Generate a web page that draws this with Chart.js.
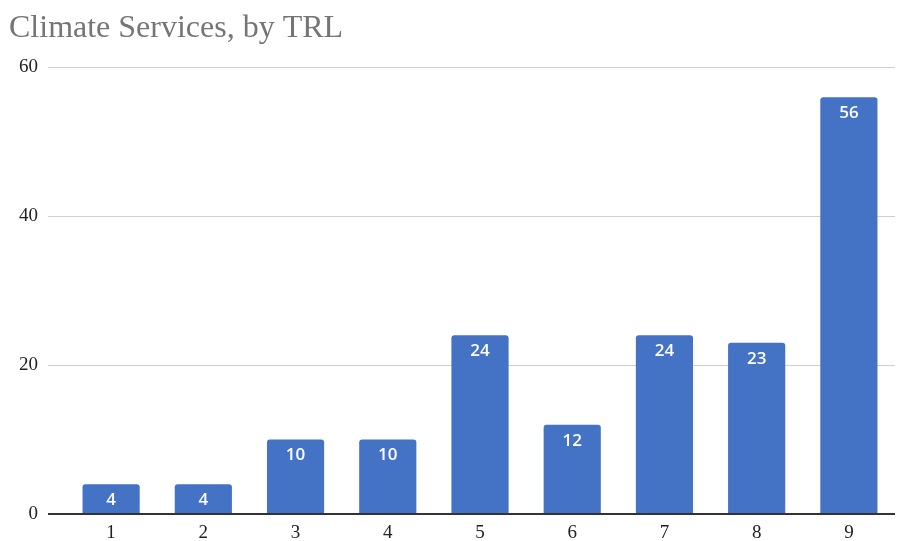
<!DOCTYPE html>
<html>
<head>
<meta charset="utf-8">
<script src="https://cdn.jsdelivr.net/npm/chart.js@4"></script>
<style>
  html, body { margin: 0; padding: 0; background: #fff; }
  #wrap { width: 903px; height: 541px; }
</style>
</head>
<body>
<div id="wrap"><canvas id="myChart" width="903" height="541"></canvas></div>
<script>
const trlLevels = ['1', '2', '3', '4', '5', '6', '7', '8', '9'];
const serviceCounts = [4, 4, 10, 10, 24, 12, 24, 23, 56];
const yTicks = [0, 20, 40, 60];

// writes each bar's value just under its top edge
const barValues = {
    id: 'barValues',
    afterDatasetsDraw(chart) {
        const ctx = chart.ctx;
        const meta = chart.getDatasetMeta(0);
        ctx.save();
        ctx.fillStyle = '#ffffff';
        ctx.font = '600 17px "Open Sans", Roboto, sans-serif';
        ctx.textAlign = 'center';
        ctx.textBaseline = 'middle';
        meta.data.forEach((bar, i) => {
            ctx.fillText(String(serviceCounts[i]), bar.x, bar.y + 16);
        });
        ctx.restore();
    }
};

const ctx = document.getElementById('myChart').getContext('2d');
new Chart(ctx, {
    type: 'bar',
    data: {
        labels: trlLevels,
        datasets: [
            {
                label: 'Climate Services',
                backgroundColor: '#4472c4',
                borderRadius: { topLeft: 3, topRight: 3 },
                borderSkipped: 'bottom',
                barPercentage: 0.62,
                categoryPercentage: 1,
                data: serviceCounts
            }
        ]
    },
    options: {
        responsive: false,
        animation: false,
        layout: { padding: { left: 9, right: 8, top: 0, bottom: 0 } },
        plugins: {
            legend: { display: false },
            tooltip: { enabled: false },
            title: {
                display: true,
                text: 'Climate Services, by TRL',
                align: 'start',
                color: '#757575',
                font: { family: '"Liberation Serif", "Times New Roman", serif', size: 32, weight: 'normal' },
                padding: { top: 9, bottom: 20 }
            }
        },
        scales: {
            x: {
                afterFit(scale) { scale.height = 27; },
                grid: { display: false, drawTicks: false },
                border: { display: false },
                ticks: {
                    color: '#222',
                    padding: 8,
                    font: { family: '"Liberation Serif", serif', size: 19 }
                }
            },
            y: {
                min: 0,
                max: 60,
                afterFit(scale) { scale.width = 56; },
                afterBuildTicks(scale) { scale.ticks = yTicks.map(v => ({ value: v })); },
                border: { display: false },
                grid: {
                    drawTicks: true,
                    tickLength: 17,
                    color: c => c.tick && c.tick.value === 0 ? '#333333' : '#d0d0d0',
                    lineWidth: c => c.tick && c.tick.value === 0 ? 2 : 1
                },
                ticks: {
                    color: '#222',
                    padding: 10,
                    font: { family: '"Liberation Serif", serif', size: 19 }
                }
            }
        }
    },
    plugins: [barValues]
});
</script>
</body>
</html>
